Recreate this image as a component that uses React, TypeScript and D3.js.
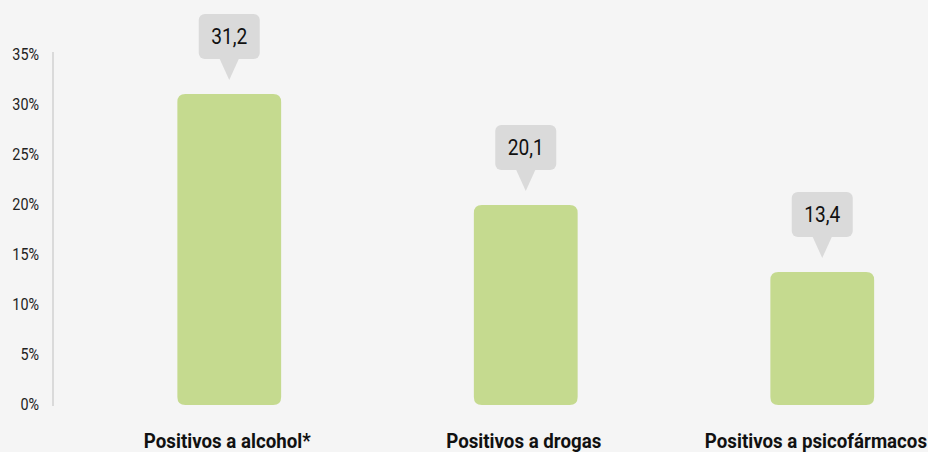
import React from 'react';
import * as d3 from 'd3';

const categories = ['Positivos a alcohol*', 'Positivos a drogas', 'Positivos a psicofármacos'];
const values = [31.2, 20.1, 13.4];
const valueLabels = ['31,2', '20,1', '13,4'];
const yTicks = [0, 5, 10, 15, 20, 25, 30, 35];

const W = 928;
const H = 452;
const FONT = 'Roboto, "Noto Sans", sans-serif';
const SQ = 0.87; // squeeze to mimic a condensed face
const CAT_SQ = 0.935;

// rough width of a bold category label, so the last one stays inside the frame
const measure = (s: string) => {
  const ctx = document.createElement('canvas').getContext('2d');
  if (!ctx) return s.length * 9;
  ctx.font = 'bold 20px Roboto';
  return ctx.measureText(s).width * CAT_SQ;
};

const App = () => {
  const x = d3
    .scaleBand<string>()
    .domain(categories)
    .range([81, 970.5])
    .paddingInner(0.65)
    .paddingOuter(0.325);

  const y = d3.scaleLinear().domain([0, 35]).range([405, 55]);

  const bw = x.bandwidth();

  return (
    <svg
      width={W}
      height={H}
      style={{ position: 'absolute', left: 0, top: 0, background: '#f5f5f5' }}
      fontFamily={FONT}
    >
      <rect x={0} y={0} width={W} height={H} fill='#f5f5f5' />

      {/* y axis */}
      <line x1={53} x2={53} y1={y(35) - 3} y2={y(0) + 1} stroke='#d0d0d0' strokeWidth={1.5} />
      {yTicks.map(t => (
        <text
          key={t}
          transform={`translate(39,${y(t)}) scale(${SQ},1)`}
          textAnchor='end'
          dominantBaseline='central'
          fontSize={16.5}
          fill='#222'
        >
          {t}%
        </text>
      ))}

      {/* bars */}
      {categories.map((c, i) => {
        const x0 = x(c)!;
        const top = y(values[i]) + 1;
        const r = 8;
        const h = y(0) - top;
        return (
          <path
            key={c}
            d={`M${x0},${top + r} Q${x0},${top} ${x0 + r},${top} H${x0 + bw - r} Q${x0 + bw},${top} ${x0 + bw},${top + r} V${top + h - r} Q${x0 + bw},${top + h} ${x0 + bw - r},${top + h} H${x0 + r} Q${x0},${top + h} ${x0},${top + h - r} Z`}
            fill='#c5da8f'
          />
        );
      })}

      {/* value callouts */}
      {categories.map((c, i) => {
        const cx = x(c)! + bw / 2;
        const top = y(values[i]) + 1;
        const bx = cx - 30.5;
        const by = top - 80;
        return (
          <g key={c + '-lab'}>
            <rect x={bx} y={by} width={61} height={45} rx={6} fill='#dadada' />
            <path d={`M${cx - 10},${by + 44} L${cx + 10},${by + 44} L${cx},${top - 14} Z`} fill='#dadada' />
            <text
              transform={`translate(${cx},${by + 22.5}) scale(${SQ},1)`}
              textAnchor='middle'
              dominantBaseline='central'
              fontSize={22}
              fill='#111'
            >
              {valueLabels[i]}
            </text>
          </g>
        );
      })}

      {/* category labels */}
      {categories.map(c => {
        const half = measure(c) / 2;
        const cx = Math.min(x(c)! + bw / 2 - 2, W - 1 - half);
        return (
          <text
            key={c + '-cat'}
            transform={`translate(${cx},448) scale(${CAT_SQ},1)`}
            textAnchor='middle'
            fontSize={20}
            fontWeight='bold'
            fill='#111'
          >
            {c}
          </text>
        );
      })}
    </svg>
  );
};

export default App;
